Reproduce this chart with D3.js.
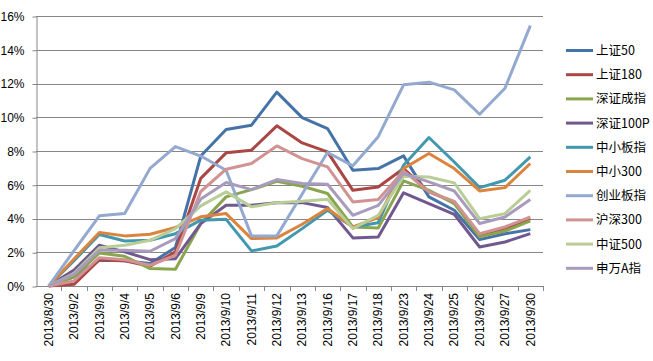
<!DOCTYPE html>
<html>
<head>
<meta charset="utf-8">
<script src="https://cdn.jsdelivr.net/npm/d3@7"></script>
<style>
  body { margin: 0; background: #fff; }
  svg { display: block; }
</style>
</head>
<body>
<script>
// dates on the x axis
var dates = ["2013/8/30", "2013/9/2", "2013/9/3", "2013/9/4", "2013/9/5", "2013/9/6", "2013/9/9",
  "2013/9/10", "2013/9/11", "2013/9/12", "2013/9/13", "2013/9/16", "2013/9/17", "2013/9/18",
  "2013/9/23", "2013/9/24", "2013/9/25", "2013/9/26", "2013/9/27", "2013/9/30"];

// cumulative return, in %
var sz50 = [0, 0.55, 1.52, 1.49, 1.33, 2.28, 7.7, 9.27, 9.53, 11.49, 9.98, 9.33, 6.86, 6.96, 7.71, 5.28, 4.49, 2.75, 3.1, 3.34];
var sz180 = [0, 0.1, 1.56, 1.49, 1.17, 2.02, 6.38, 7.89, 8.05, 9.49, 8.48, 7.95, 5.67, 5.87, 6.96, 5.58, 4.98, 3.0, 3.4, 3.99];
var szcz = [0, 0.55, 1.96, 1.76, 1.03, 0.99, 3.7, 5.28, 5.71, 6.21, 5.91, 5.48, 3.5, 3.44, 6.23, 5.67, 4.88, 2.91, 3.26, 3.86];
var sz100p = [0, 0.95, 2.42, 2.02, 1.56, 1.62, 3.7, 4.78, 4.78, 4.94, 4.94, 4.65, 2.85, 2.91, 5.52, 4.88, 4.25, 2.31, 2.61, 3.1];
var zxbz = [0, 1.5, 3.05, 2.67, 2.71, 3.1, 3.9, 3.95, 2.08, 2.37, 3.4, 4.49, 3.5, 3.75, 7.16, 8.8, 7.35, 5.83, 6.27, 7.65];
var zx300 = [0, 1.6, 3.17, 2.97, 3.07, 3.47, 4.1, 4.29, 2.81, 2.85, 3.66, 4.59, 3.5, 4.05, 6.96, 7.85, 6.96, 5.63, 5.83, 7.26];
var cybz = [0, 2.1, 4.16, 4.3, 6.97, 8.26, 7.7, 6.86, 2.97, 2.97, 5.45, 7.91, 7.12, 8.85, 11.92, 12.08, 11.62, 10.18, 11.72, 15.43];
var hs300 = [0, 0.3, 1.68, 1.56, 1.23, 1.82, 5.6, 6.92, 7.26, 8.3, 7.55, 7.06, 4.98, 5.12, 6.82, 5.58, 5.02, 3.1, 3.5, 4.09];
var zz500 = [0, 0.75, 2.26, 2.42, 2.71, 3.4, 4.75, 5.58, 4.69, 4.94, 5.02, 5.14, 3.4, 4.19, 6.5, 6.46, 6.11, 3.99, 4.29, 5.67];
var swa = [0, 0.7, 2.12, 2.12, 2.06, 2.81, 5.15, 6.13, 5.71, 6.31, 6.07, 6.03, 4.19, 4.78, 6.66, 6.17, 5.63, 3.7, 4.09, 5.12];

var names = ["上证50", "上证180", "深证成指", "深证100P", "中小板指", "中小300", "创业板指", "沪深300", "中证500", "申万A指"];
var values = [sz50, sz180, szcz, sz100p, zxbz, zx300, cybz, hs300, zz500, swa];
var colors = ["#4572A7", "#AA4643", "#89A54E", "#71588F", "#4198AF", "#DB843D", "#93A9CF", "#D19392", "#B9CD96", "#A99BBD"];
var yTicks = [0, 2, 4, 6, 8, 10, 12, 14, 16];

var W = 653, H = 361;
var plotL = 36, plotR = 543, plotT = 16, plotB = 286;

var svg = d3.select("body").append("svg")
    .attr("width", W)
    .attr("height", H);

var x = d3.scaleBand().domain(dates).range([plotL, plotR]);
var y = d3.scaleLinear().domain([0, 16]).range([plotB, plotT]);

// gridlines
svg.append("g")
    .selectAll("line")
    .data(yTicks.slice(1))
    .enter().append("line")
    .attr("x1", plotL).attr("x2", plotR)
    .attr("y1", function (d) { return Math.round(y(d)) + 0.5; })
    .attr("y2", function (d) { return Math.round(y(d)) + 0.5; })
    .attr("stroke", "#868686")
    .attr("stroke-width", 1);

// y axis
var yAxis = svg.append("g")
    .attr("transform", "translate(" + (plotL + 0.5) + ",0.5)")
    .call(d3.axisLeft(y).tickValues(yTicks).tickSize(4).tickSizeOuter(0).tickPadding(8)
        .tickFormat(function (d) { return d + "%"; }));
yAxis.select(".domain").attr("stroke", "#868686");
yAxis.selectAll(".tick line").attr("stroke", "#868686");
yAxis.selectAll("text")
    .attr("font-family", "Liberation Sans, Arial, sans-serif")
    .attr("font-size", "12px")
    .attr("fill", "#000");

// x axis: ticks sit between the categories
var xg = svg.append("g");
xg.append("line")
    .attr("x1", plotL).attr("x2", plotR + 1)
    .attr("y1", plotB + 0.5).attr("y2", plotB + 0.5)
    .attr("stroke", "#868686");
xg.selectAll(".tk")
    .data(dates)
    .enter().append("line")
    .attr("class", "tk")
    .attr("x1", function (d) { return Math.round(x(d) + x.bandwidth()) + 0.5; })
    .attr("x2", function (d) { return Math.round(x(d) + x.bandwidth()) + 0.5; })
    .attr("y1", plotB).attr("y2", plotB + 5)
    .attr("stroke", "#868686");
xg.selectAll("text")
    .data(dates)
    .enter().append("text")
    .attr("transform", function (d) {
        return "translate(" + (x(d) + x.bandwidth() / 2) + "," + (plotB + 7) + ") rotate(-90)";
    })
    .attr("dy", "0.35em")
    .attr("text-anchor", "end")
    .attr("font-family", "Liberation Sans, Arial, sans-serif")
    .attr("font-size", "12px")
    .attr("fill", "#000")
    .text(function (d) { return d; });

// lines
var line = d3.line()
    .x(function (d, i) { return x(dates[i]) + x.bandwidth() / 2; })
    .y(function (d) { return y(d); });

svg.append("g")
    .selectAll("path")
    .data(values)
    .enter().append("path")
    .attr("d", line)
    .attr("fill", "none")
    .attr("stroke", function (d, i) { return colors[i]; })
    .attr("stroke-width", 3)
    .attr("stroke-linejoin", "round");

// legend
var legend = svg.append("g")
    .selectAll("g")
    .data(names)
    .enter().append("g")
    .attr("transform", function (d, i) { return "translate(566," + (50.5 + i * 24.2) + ")"; });
legend.append("line")
    .attr("x1", 0).attr("x2", 27)
    .attr("stroke", function (d, i) { return colors[i]; })
    .attr("stroke-width", 3);
legend.append("text")
    .attr("x", 30)
    .attr("dy", "0.36em")
    .attr("font-family", "Noto Sans CJK SC, sans-serif")
    .attr("font-size", "12.5px")
    .attr("fill", "#000")
    .text(function (d) { return d; });
</script>
</body>
</html>
